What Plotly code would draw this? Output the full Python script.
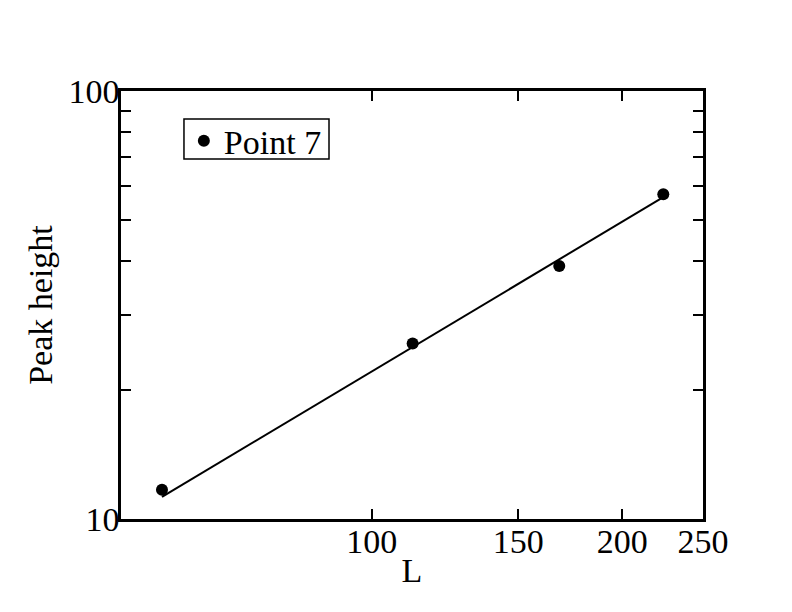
import numpy as np
import plotly.graph_objects as go

# Data
L_values = [56, 112, 168, 224]
peak_heights = [11.7, 25.7, 39.0, 57.4]
fit_L = [56, 224]
fit_heights = [11.26, 56.5]

x_tick_vals = [100, 150, 200, 250]
x_tick_text = ["100", "150", "200", "250"]
y_tick_vals = [10, 20, 30, 40, 50, 60, 70, 80, 90, 100]
y_tick_text = ["10", "", "", "", "", "", "", "", "", "100"]

FONT = "Liberation Serif"
FS = 34

fig = go.Figure()
fig.add_trace(go.Scatter(
    x=fit_L, y=fit_heights, mode="lines",
    line=dict(color="black", width=2), showlegend=False, hoverinfo="skip"))
fig.add_trace(go.Scatter(
    x=L_values, y=peak_heights, mode="markers", name="Point 7",
    marker=dict(color="black", size=12, symbol="circle")))

axis_common = dict(
    showline=True, linecolor="black", linewidth=2.5, mirror="ticks",
    ticks="inside", ticklen=10, tickwidth=2, tickcolor="black",
    showgrid=False, zeroline=False,
    tickfont=dict(family=FONT, size=FS, color="black"),
)

fig.update_layout(
    width=792, height=612,
    margin=dict(l=113, r=97, t=83, b=101),
    paper_bgcolor="white", plot_bgcolor="white",
    font=dict(family=FONT, size=FS, color="black"),
    xaxis=dict(type="log", range=[np.log10(50), np.log10(250)],
               tickvals=x_tick_vals, ticktext=x_tick_text,
               ticklabelstandoff=-10,
               title=dict(text="L", font=dict(family=FONT, size=FS), standoff=0),
               **axis_common),
    yaxis=dict(type="log", range=[1, 2],
               tickvals=y_tick_vals, ticktext=y_tick_text,
               ticklabelstandoff=-8,
               title=dict(text="Peak height", font=dict(family=FONT, size=FS), standoff=6),
               **axis_common),
    legend=dict(x=0.108, y=0.883, xanchor="left", yanchor="middle",
                borderwidth=0, bgcolor="rgba(0,0,0,0)",
                font=dict(family=FONT, size=FS), itemwidth=30,
                tracegroupgap=0),
    showlegend=True,
    shapes=[dict(type="rect", xref="x domain", yref="y domain",
                 x0=0.1082, x1=0.3574, y0=0.841, y1=0.9346,
                 line=dict(color="black", width=1.5), fillcolor="rgba(0,0,0,0)")],
)

fig.write_html("out.html")
